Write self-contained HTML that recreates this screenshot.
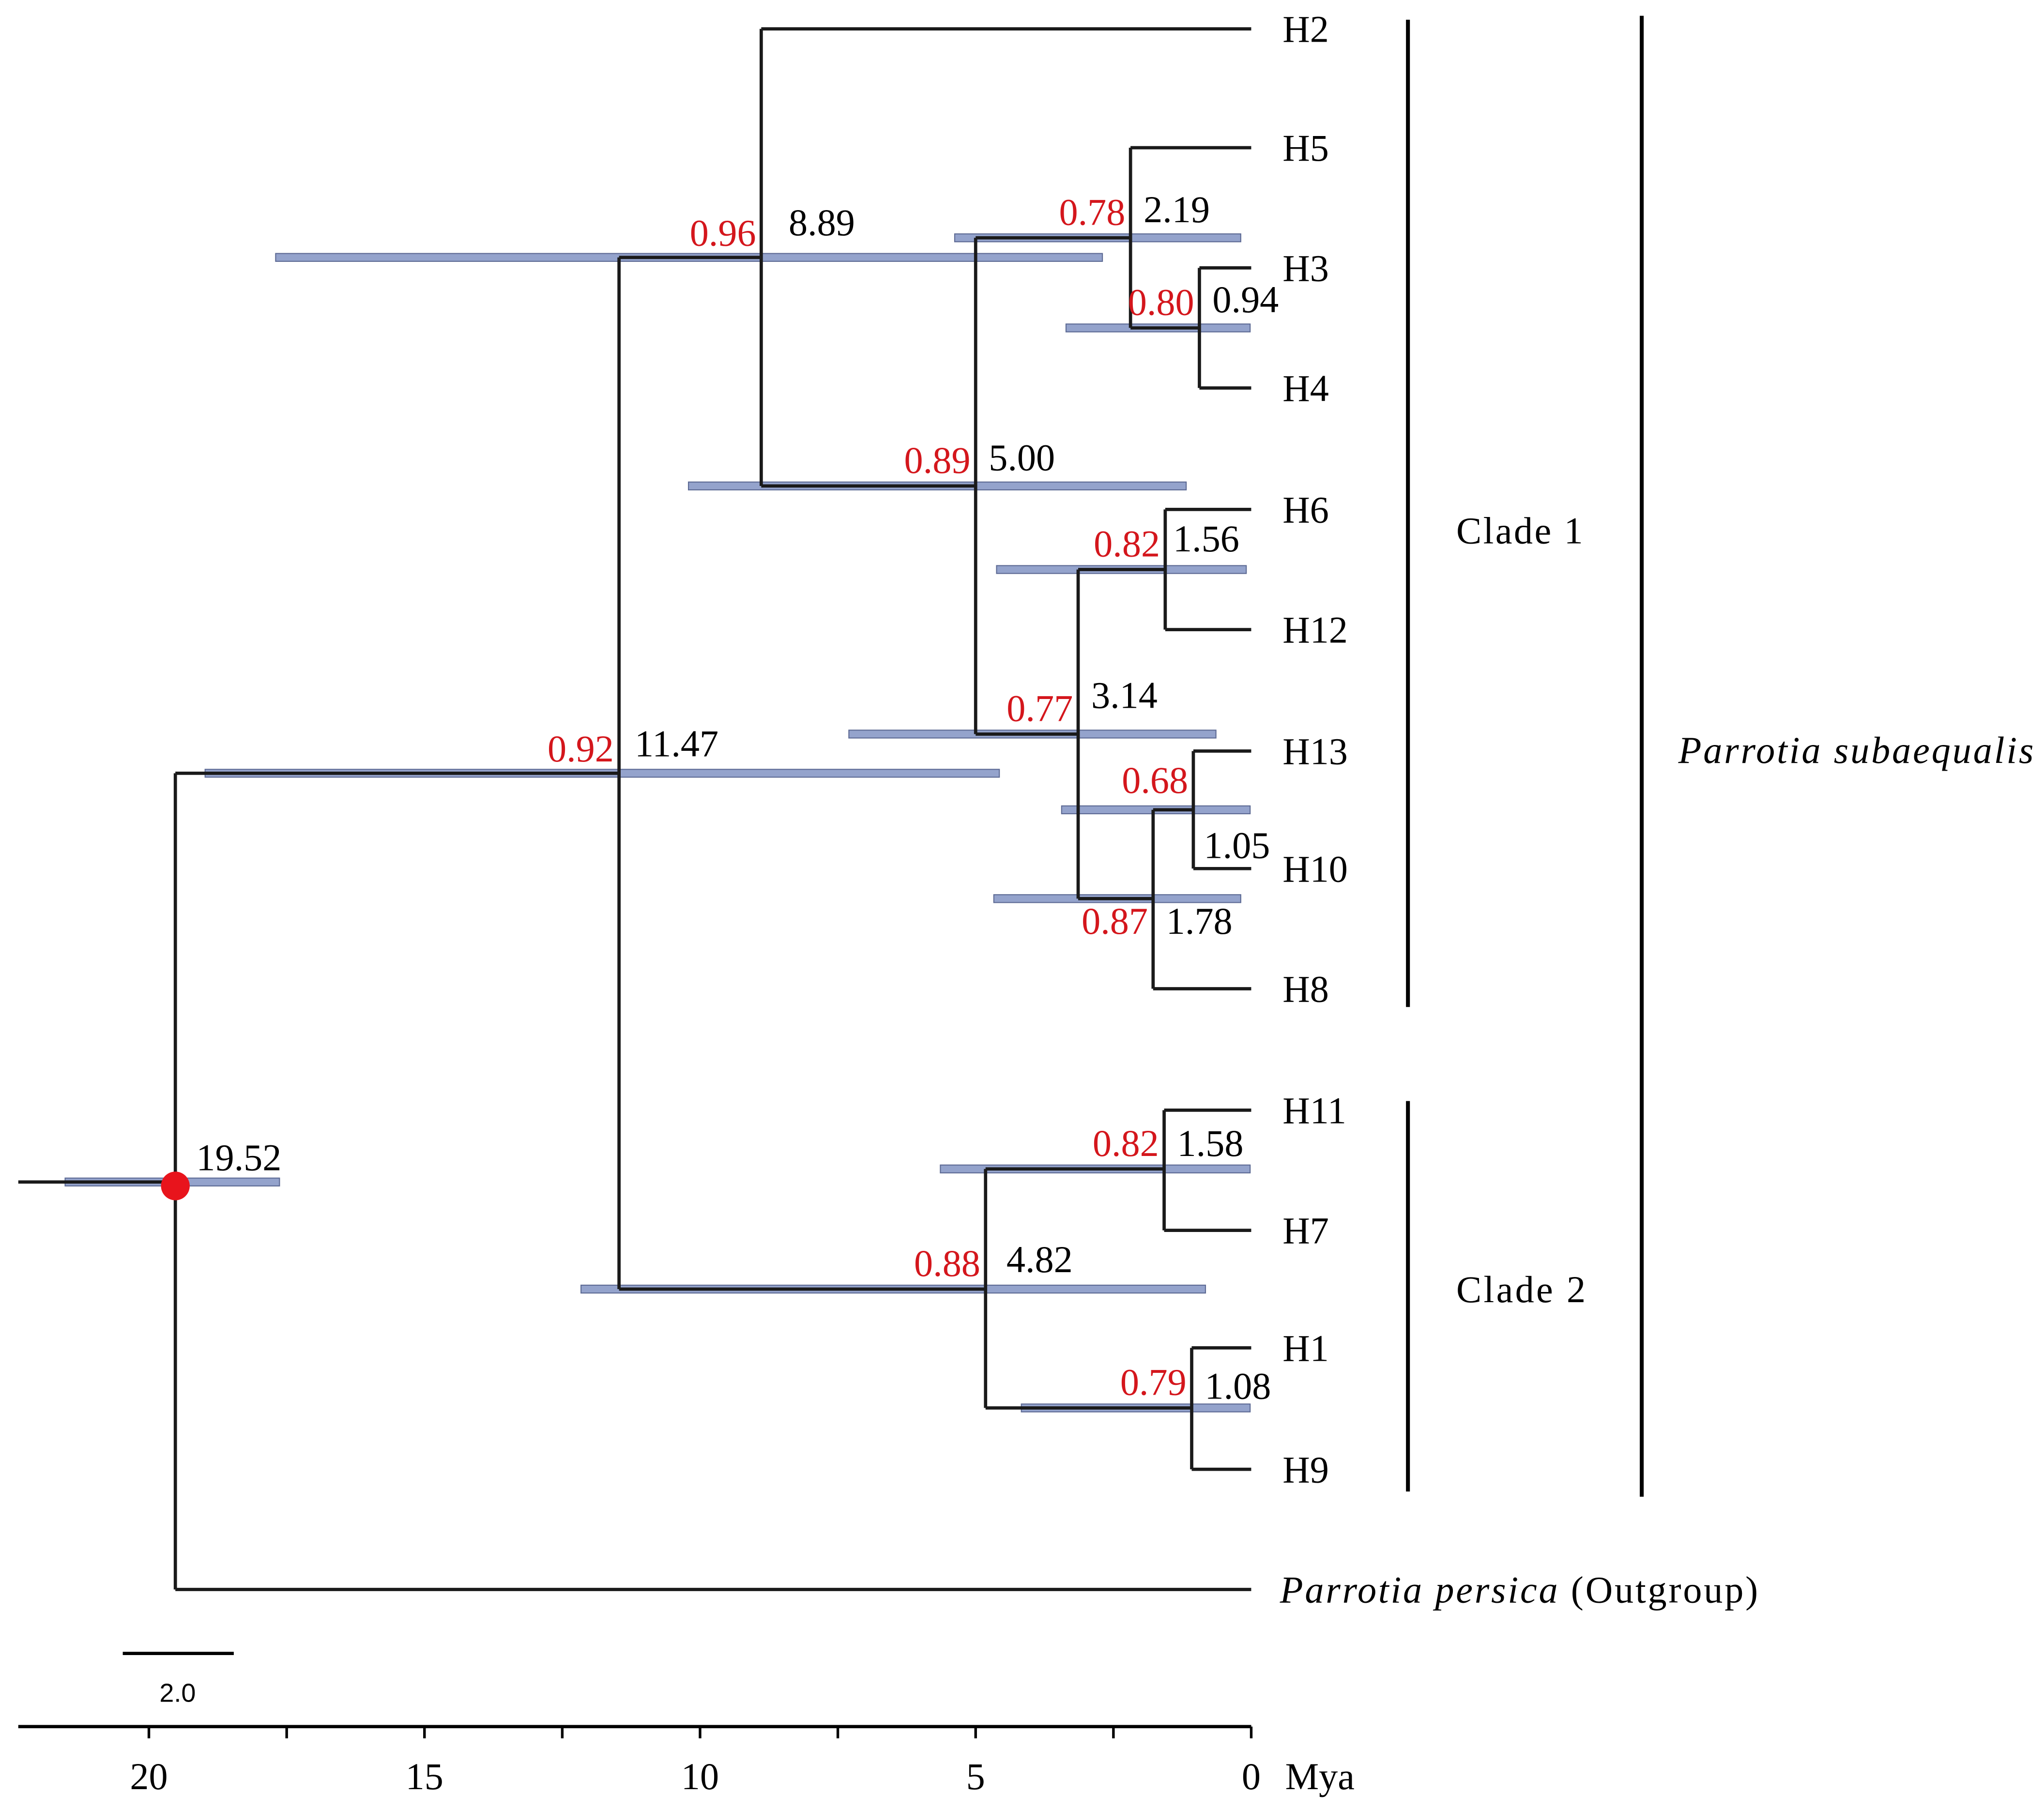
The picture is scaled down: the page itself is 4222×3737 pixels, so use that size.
<!DOCTYPE html>
<html><head><meta charset="utf-8"><style>
html,body{margin:0;padding:0;background:#fff;}
svg{display:block;}
text{font-family:"Liberation Serif",serif;font-size:29px;}
</style></head><body>
<svg width="4222" height="3737" viewBox="0 0 1565 1385" xmlns="http://www.w3.org/2000/svg">
<g id="hpd"></g>
<g id="tree"></g>
<g id="labels"></g>
<g id="axis"></g>
<g>
<line x1="1078" y1="15" x2="1078" y2="771" stroke="#000" stroke-width="3"/>
<line x1="1078" y1="843" x2="1078" y2="1142" stroke="#000" stroke-width="3"/>
<line x1="1257" y1="12" x2="1257" y2="1146" stroke="#000" stroke-width="3"/>
<text x="1115" y="416" textLength="97">Clade 1</text>
<text x="1115" y="997" textLength="99">Clade 2</text>
<text x="1285" y="584" font-style="italic" textLength="272">Parrotia subaequalis</text>
<line x1="94" y1="1266" x2="179" y2="1266" stroke="#000" stroke-width="2.5"/>
<text x="136" y="1303" text-anchor="middle" style="font-family:'Liberation Sans',sans-serif;font-size:20px">2.0</text>
</g>
</svg>
<script>
const tipNames=["H2","H5","H3","H4","H6","H12","H13","H10","H8","H11","H7","H1","H9","OUT"];
const tipY=[22,113,205,297,390,482,575,665,757,850,942,1032,1125,1217];
const nodeAges=[19.52,11.47,8.89,5.00,2.19,0.94,3.14,1.56,1.78,1.05,4.82,1.58,1.08];
const nodePost=[null,0.92,0.96,0.89,0.78,0.80,0.77,0.82,0.87,0.68,0.88,0.82,0.79];
const nodeChildren=[["n1","t13"],["n2","n10"],["t0","n3"],["n4","n6"],["t1","n5"],["t2","t3"],["n7","n8"],["t4","t5"],["n9","t8"],["t6","t7"],["n11","n12"],["t9","t10"],["t11","t12"]];
const hpdLow=[17.63,4.57,2.70,1.18,0.19,0.02,0.64,0.09,0.19,0.02,0.83,0.02,0.02];
const hpdHigh=[21.52,18.98,17.70,10.21,5.38,3.36,7.30,4.62,4.67,3.44,12.16,5.64,4.17];
const axisTicks=[20,15,10,5,0];
const NS="http://www.w3.org/2000/svg";
const X=a=>958-42.2*a;
function mk(g,t,at){const e=document.createElementNS(NS,t);for(const k in at)e.setAttribute(k,at[k]);document.getElementById(g).appendChild(e);return e;}
const stemY=[905,592,197,372,182,251,562,436,688,620,987,895,1078];
function cy(c){return c[0]==="t"?tipY[+c.slice(1)]:stemY[+c.slice(1)];}
function cx(c){return c[0]==="t"?X(0):X(nodeAges[+c.slice(1)]);}
for(let i=0;i<nodeAges.length;i++){
 const r=mk("hpd","rect",{x:X(hpdHigh[i]),y:stemY[i]-3,width:X(hpdLow[i])-X(hpdHigh[i]),height:6,fill:"#94a3cc",stroke:"#5d6a94","stroke-width":0.8});
 
 
}
for(let i=0;i<nodeAges.length;i++){
 const x=X(nodeAges[i]);const ys=nodeChildren[i].map(cy);
 const v=mk("tree","line",{x1:x,y1:Math.min(...ys),x2:x,y2:Math.max(...ys),stroke:"#1a1a1a","stroke-width":2.5});
 
 
 nodeChildren[i].forEach(c=>{
  const h=mk("tree","line",{x1:x,y1:cy(c),x2:cx(c),y2:cy(c),stroke:"#1a1a1a","stroke-width":2.5});
  
  
 });
}
const stem=mk("tree","line",{x1:14,y1:905,x2:X(nodeAges[0]),y2:905,stroke:"#1a1a1a","stroke-width":2.5});


const rc=mk("tree","circle",{cx:X(nodeAges[0]),cy:908,r:11,fill:"#e8141c"});


tipNames.forEach((n,i)=>{
 const t=mk("labels","text",{x:i===13?980:982,y:tipY[i]+10});
 if(i===13){t.setAttribute('textLength','366');t.innerHTML='<tspan font-style="italic">Parrotia persica</tspan> (Outgroup)';}
 else t.textContent=n;
 
 
});
const ageLabY=[-9,-13,-17,-12,-12,-12,-20,-14,27,-7,-13,-10,-7];
const ageDX=[16,12,21,10,10,10,10,6,10,8,16,10,10];
const ageDY2=[0,0,0,0,0,0,0,0,0,44,0,0,0];
for(let i=0;i<nodeAges.length;i++){
 const x=X(nodeAges[i]);
 const a=mk("labels","text",{x:x+ageDX[i],y:stemY[i]+ageLabY[i]+ageDY2[i]});
 a.textContent=nodeAges[i].toFixed(2);
 
 
 if(nodePost[i]!==null){
  const p=mk("labels","text",{x:x-4,y:stemY[i]+(i===8?27:(i===2||i===1?-9:(i===9?-13:-10))),"text-anchor":"end",fill:"#d4161c"});
  p.textContent=nodePost[i].toFixed(2);
  
  
 }
}
const ax=mk("axis","line",{x1:14,y1:1322,x2:958,y2:1322,stroke:"#000","stroke-width":2.5});


for(let a=0;a<=20;a+=2.5){
 const tk=mk("axis","line",{x1:X(a),y1:1322,x2:X(a),y2:1331,stroke:"#000","stroke-width":2});
 
 
}
axisTicks.forEach(v=>{
 const t=mk("axis","text",{x:X(v),y:1370,"text-anchor":"middle"});
 t.textContent=v;
 
 
});
const u=mk("axis","text",{x:984,y:1370});
u.textContent="Mya";


</script>
</body></html>
